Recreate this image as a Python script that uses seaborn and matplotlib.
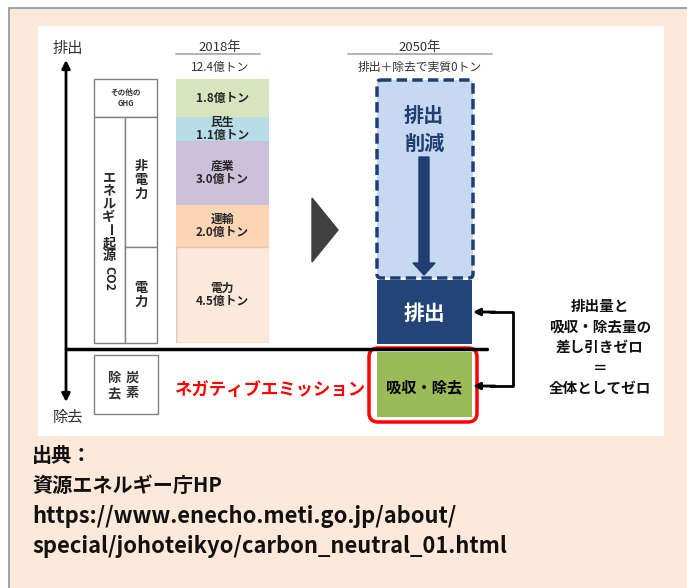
import numpy as np
import pandas as pd
import seaborn as sns
import matplotlib.pyplot as plt
from matplotlib import patches

sns.set_style("white")
plt.rcParams['font.family'] = ['Noto Sans CJK JP', 'DejaVu Sans']

# 2018 emissions (億トン), bottom to top
sectors = ['電力', '運輸', '産業', '民生', 'その他のGHG']
values = [4.5, 2.0, 3.0, 1.1, 1.8]
colors = ['#FDE9D9', '#FCD5B5', '#CCC1DA', '#B7DDE8', '#D7E4BD']
total_2018 = 12.4

head_2018 = ['2018年', '12.4億トン']
head_2050 = ['2050年', '排出＋除去で実質0トン']
right_note = ['排出量と', '吸収・除去量の', '差し引きゼロ', '＝', '全体としてゼロ']
source = ['出典：', '資源エネルギー庁HP',
          'https://www.enecho.meti.go.jp/about/',
          'special/johoteikyo/carbon_neutral_01.html']

fig = plt.figure(figsize=(6.87, 5.88), dpi=100)
ax = fig.add_axes([0, 0, 1, 1])
ax.set_xlim(0, 687)
ax.set_ylim(588, 0)
ax.axis('off')

# background frames
ax.add_patch(patches.Rectangle((9, 8), 690, 600, facecolor='#FDE9D9',
                               edgecolor='#8497B0', lw=1.2))
ax.add_patch(patches.Rectangle((38, 26), 626, 410, facecolor='white', edgecolor='none'))

# stacked bar 2018
bar_top, bar_bot = 79, 343
bax = fig.add_axes([176 / 687, 1 - bar_bot / 588, 93 / 687, (bar_bot - bar_top) / 588])
cum = np.cumsum(values)
for i in reversed(range(len(values))):
    df = pd.DataFrame({'year': ['2018'], 'value': [cum[i]]})
    sns.barplot(data=df, x='year', y='value', color=colors[i], width=1.0,
                saturation=1, errorbar=None, ax=bax,
                edgecolor='#F2C0B8' if i == 0 else 'none', linewidth=1)
bax.set_ylim(0, total_2018)
bax.set_xlim(-0.5, 0.5)
bax.axis('off')
for i, (s, v) in enumerate(zip(sectors, values)):
    lab = f'{v}億トン' if s == 'その他のGHG' else f'{s}\n{v}億トン'
    bax.text(0, cum[i] - v / 2, lab, ha='center', va='center', fontsize=8.5,
             fontweight='bold', linespacing=1.05)


def ypx(v):
    return bar_bot - v * (bar_bot - bar_top) / total_2018


# headers
for cx, (a, b) in [(220, head_2018), (420, head_2050)]:
    ax.text(cx, 47, a, ha='center', va='center', fontsize=9.5, color='#333333')
    ax.text(cx, 67, b, ha='center', va='center', fontsize=8.5, color='#333333')
ax.plot([176, 260], [54, 54], color='#A6A6A6', lw=1.2)
ax.plot([348, 492], [54, 54], color='#A6A6A6', lw=1.2)

# emission/removal axis
ax.annotate('', xy=(66, 60), xytext=(66, 402),
            arrowprops=dict(arrowstyle='<|-|>', lw=2, color='black',
                            shrinkA=0, shrinkB=0, mutation_scale=12))
ax.text(68, 49, '排出', ha='center', va='center', fontsize=11, color='#333333')
ax.text(68, 417, '除去', ha='center', va='center', fontsize=11, color='#333333')
ax.plot([66, 487], [349, 349], color='black', lw=2.5)

# left category boxes
y_ghg = ypx(cum[3])
y_pow = ypx(cum[0])
box_kw = dict(facecolor='white', edgecolor='#808080', lw=1)
ax.add_patch(patches.Rectangle((94, bar_top), 63, y_ghg - bar_top, **box_kw))
ax.add_patch(patches.Rectangle((94, y_ghg), 31, bar_bot - y_ghg, **box_kw))
ax.add_patch(patches.Rectangle((125, y_ghg), 32, y_pow - y_ghg, **box_kw))
ax.add_patch(patches.Rectangle((125, y_pow), 32, bar_bot - y_pow, **box_kw))
ax.add_patch(patches.Rectangle((94, 355), 64, 59, **box_kw))
ax.text(125.5, (bar_top + y_ghg) / 2, 'その他の\nGHG', ha='center', va='center',
        fontsize=5.5, fontweight='bold', color='#333333', linespacing=1.3)
vert = ['エ', 'ネ', 'ル', 'ギ', 'ー', '起', '源']
for k, ch in enumerate(vert):
    ax.text(109, 177 + k * 13.2, ch, ha='center', va='center', fontsize=9.5,
            fontweight='bold', rotation=-90 if ch == 'ー' else 0)
ax.text(109, 279, 'CO2', ha='center', va='center', fontsize=9,
        fontweight='bold', rotation=-90)
for k, ch in enumerate('非電力'):
    ax.text(141, 166 + k * 14, ch, ha='center', va='center', fontsize=9.5, fontweight='bold')
for k, ch in enumerate('電力'):
    ax.text(141, 288 + k * 14, ch, ha='center', va='center', fontsize=9.5, fontweight='bold')
for cx, word in [(132, '炭素'), (114, '除去')]:
    for k, ch in enumerate(word):
        ax.text(cx, 378 + k * 15, ch, ha='center', va='center', fontsize=9.5,
                fontweight='bold', color='#333333')

ax.text(270, 390, 'ネガティブエミッション', ha='center', va='center',
        fontsize=12.5, fontweight='bold', color='#FF0000')

# transition triangle
ax.add_patch(patches.Polygon([(312, 198), (338, 230), (312, 262)], closed=True,
                             color='#404040'))

# 2050 column
navy = '#1F3F73'
ax.add_patch(patches.FancyBboxPatch((377, 80), 96, 198,
                                    boxstyle='round,pad=0,rounding_size=4',
                                    facecolor='#C6D9F1', edgecolor=navy,
                                    lw=2.5, linestyle=(0, (3, 1.5))))
ax.text(424, 115, '排出', ha='center', va='center', fontsize=14.5,
        fontweight='bold', color=navy)
ax.text(424, 143, '削減', ha='center', va='center', fontsize=14.5,
        fontweight='bold', color=navy)
ax.add_patch(patches.FancyArrow(424, 157, 0, 118, width=10, head_width=22,
                                head_length=12, length_includes_head=True,
                                color=navy))
ax.add_patch(patches.Rectangle((377, 280), 95, 64, facecolor='#234476', edgecolor='none'))
ax.text(424, 314, '排出', ha='center', va='center', fontsize=15,
        fontweight='bold', color='white')
ax.add_patch(patches.Rectangle((377, 352), 95, 65, facecolor='#9BBB59', edgecolor='none'))
ax.text(424, 387, '吸収・除去', ha='center', va='center', fontsize=11,
        fontweight='bold', color='black')
ax.add_patch(patches.FancyBboxPatch((369, 348), 108, 74,
                                    boxstyle='round,pad=0,rounding_size=9',
                                    facecolor='none', edgecolor='#FF0000', lw=2.5))

# balancing bracket
ax.plot([490, 513, 513, 490], [312, 312, 386, 386], color='black', lw=2)
for yy in (312, 386):
    ax.annotate('', xy=(473, yy), xytext=(495, yy),
                arrowprops=dict(arrowstyle='-|>', lw=2, color='black',
                                shrinkA=0, shrinkB=0, mutation_scale=10))
for k, line in enumerate(right_note):
    ax.text(600, 306 + k * 20.5, line, ha='center', va='center', fontsize=10.5,
            fontweight='bold', color='#111111')

# source
for k, line in enumerate(source):
    ax.text(32, 455 + k * 30.5, line, ha='left', va='center',
            fontsize=14.5 if k < 2 else 15.8, fontweight='bold',
            color='#111111')

fig.savefig('out.png', dpi=100)
